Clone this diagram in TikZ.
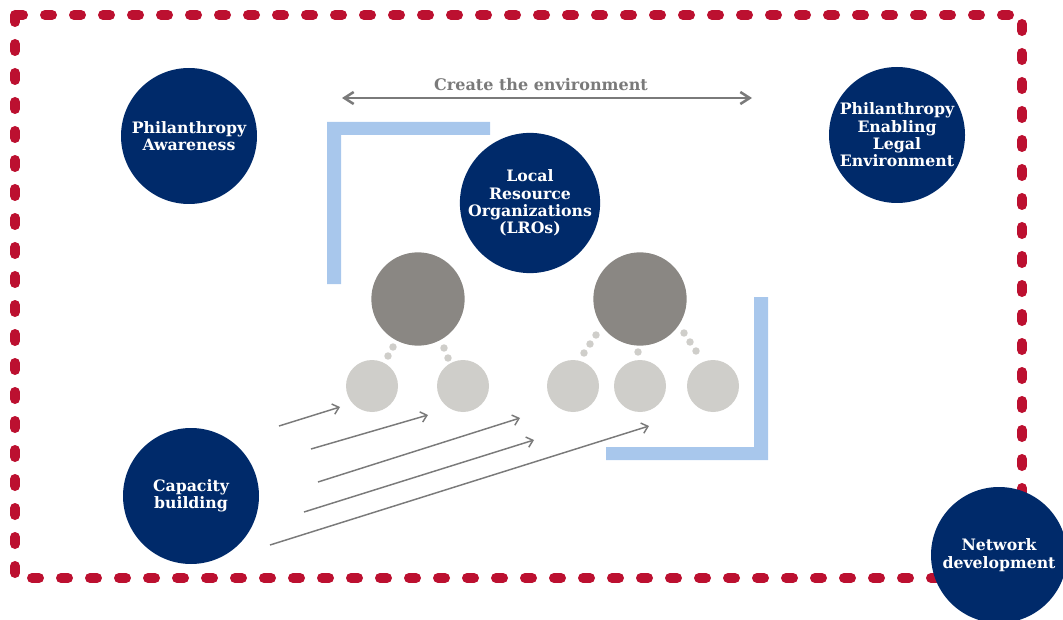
\documentclass[tikz,border=0pt]{standalone}
\usepackage{fontspec}
\setmainfont{DejaVu Serif}
\usetikzlibrary{arrows.meta}
\definecolor{navy}{RGB}{0,42,106}
\definecolor{crimson}{RGB}{188,16,48}
\definecolor{stone}{RGB}{138,135,131}
\definecolor{pebble}{RGB}{207,206,202}
\definecolor{sky}{RGB}{168,199,236}
\definecolor{ash}{RGB}{122,122,122}
\begin{document}
\begin{tikzpicture}[x=0.75pt,y=-0.75pt,
  goal/.style={circle,fill=navy,minimum size=102pt,inner sep=0pt,text=white,align=center,
    font=\bfseries\fontsize{11.8}{13}\selectfont},
  hub/.style={circle,fill=stone,minimum size=70pt,inner sep=0pt},
  leaf/.style={circle,fill=pebble,minimum size=39pt,inner sep=0pt},
  push/.style={draw=ash,line width=1.1pt,-{Straight Barb[length=4.5pt,width=8pt]}}]
\useasboundingbox (0,0) rectangle (1063,620);
% frame
\draw[crimson,line width=7.5pt,line cap=round,dash pattern=on 5.25pt off 16.5pt]
  (15,15) rectangle (1022,578);
% brackets
\fill[sky] (327,122) -- (490,122) -- (490,135) -- (341,135) -- (341,284) -- (327,284) -- cycle;
\fill[sky] (768,297) -- (768,460) -- (606,460) -- (606,447) -- (754,447) -- (754,297) -- cycle;
% goals
\node[goal] (aware) at (189,136) {Philanthropy\\Awareness};
\node[goal] (lro) at (530,203) {Local\\Resource\\Organizations\\(LROs)};
\node[goal] (legal) at (897,135) {Philanthropy\\Enabling\\Legal\\Environment};
\node[goal] (capacity) at (191,496) {Capacity\\building};
\node[goal] (network) at (999,555) {Network\\development};
% create the environment
\coordinate (envL) at (342,98);
\coordinate (envR) at (752,98);
\draw[ash,line width=1.9pt,{Straight Barb[length=7pt,width=9pt]}-{Straight Barb[length=7pt,width=9pt]}] (envL) -- (envR);
\node[text=ash,font=\bfseries\fontsize{12}{14}\selectfont] (envtext) at (541,85) {Create the environment};
% LRO trees
\node[hub] (hubL) at (418,299) {};
\node[hub] (hubR) at (640,299) {};
\node[leaf] (leafA) at (372,386) {};
\node[leaf] (leafB) at (463,386) {};
\node[leaf] (leafC) at (573,386) {};
\node[leaf] (leafD) at (640,386) {};
\node[leaf] (leafE) at (713,386) {};
\fill[pebble] (393,347) circle (2.8pt);
\fill[pebble] (388,356) circle (2.8pt);
\fill[pebble] (444,348) circle (2.8pt);
\fill[pebble] (448,358) circle (2.8pt);
\fill[pebble] (596,335) circle (2.8pt);
\fill[pebble] (590,344) circle (2.8pt);
\fill[pebble] (584,353) circle (2.8pt);
\fill[pebble] (638,352) circle (2.8pt);
\fill[pebble] (684,333) circle (2.8pt);
\fill[pebble] (690,342) circle (2.8pt);
\fill[pebble] (696,351) circle (2.8pt);
% capacity arrows
\coordinate (capA) at (279,426); \coordinate (toA) at (340,407);
\coordinate (capB) at (311,449); \coordinate (toB) at (428,415);
\coordinate (capC) at (318,482); \coordinate (toC) at (520,418);
\coordinate (capD) at (304,512); \coordinate (toD) at (534,440);
\coordinate (capE) at (270,545); \coordinate (toE) at (649,426);
\draw[push] (capA) -- (toA);
\draw[push] (capB) -- (toB);
\draw[push] (capC) -- (toC);
\draw[push] (capD) -- (toD);
\draw[push] (capE) -- (toE);
\end{tikzpicture}
\end{document}
